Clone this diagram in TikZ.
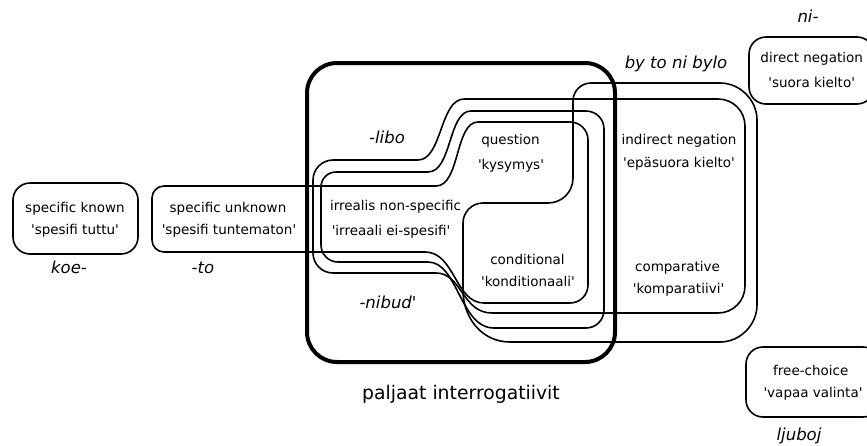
\documentclass[tikz,border=0pt]{standalone}
\usepackage{fontspec}
\setmainfont{DejaVu Sans}[Ligatures=TeXOff]
\begin{document}
\begin{tikzpicture}[x=1pt,y=-1pt,line join=round,
  outline/.style={draw, line width=1.6pt},
  termbox/.style={draw, line width=1.6pt, rounded corners=17pt, inner sep=0pt},
  gloss/.style={anchor=base, inner sep=0pt, font=\fontsize{13.5}{16}\selectfont},
  marker/.style={anchor=base, inner sep=0pt, font=\fontsize{16.5}{20}\selectfont\itshape},
]
\useasboundingbox (0,0) rectangle (867,445);

% bare interrogatives: the thick frame
\node[draw, line width=4pt, rounded corners=30pt, minimum width=308pt,
      minimum height=299pt, inner sep=0pt] (bare) at (461,212.5) {};
\node[anchor=base, inner sep=0pt, font=\fontsize{18.8}{22}\selectfont]
      (barelbl) at (461,399) {paljaat interrogatiivit};

% stand-alone functions
\node[termbox, minimum width=125pt, minimum height=71pt] (knownbox) at (75.5,218.5) {};
\node[termbox, minimum width=125pt, minimum height=67pt] (dirnegbox) at (811.5,70.5) {};
\node[termbox, minimum width=134pt, minimum height=70pt] (freebox) at (813,382) {};

% -to
\draw[outline] (152,220) -- (152,198) .. controls (152,191.4) and (157.4,186) .. (164,186)
  -- (436,186) .. controls (460,186) and (455,122) .. (478,122)
  -- (570,122) .. controls (580,122) and (588,130) .. (588,140)
  -- (588,285) .. controls (588,295) and (580,303) .. (570,303)
  -- (484,303) .. controls (455,303) and (455,252) .. (425,252)
  -- (164,252) .. controls (157.4,252) and (152,246.6) .. (152,240) -- cycle;

% -libo
\draw[outline] (313,220) -- (313,180) .. controls (313,169) and (322,160) .. (333,160)
  -- (418,160) .. controls (442,160) and (440,99) .. (464,99)
  -- (718,99) .. controls (733,99) and (745,111) .. (745,126)
  -- (745,286) .. controls (745,301) and (733,313) .. (718,313)
  -- (492,313) .. controls (462,313) and (462,273) .. (436,273)
  -- (333,273) .. controls (322,273) and (313,264) .. (313,253) -- cycle;

% -nibud'
\draw[outline] (321,220) -- (321,187) .. controls (321,178.7) and (327.7,172) .. (336,172)
  -- (428,172) .. controls (452,172) and (448,111) .. (471,111)
  -- (586,111) .. controls (596,111) and (604,119) .. (604,129)
  -- (604,310) .. controls (604,320) and (596,328) .. (586,328)
  -- (494,328) .. controls (460,328) and (458,262) .. (428,262)
  -- (338,262) .. controls (328.6,262) and (321,254.4) .. (321,245) -- cycle;

% by to ni bylo
\draw[outline] (650,83) -- (720,83) .. controls (740,83) and (757,100) .. (757,120)
  -- (757,305) .. controls (757,325) and (740,342) .. (720,342)
  -- (510,342) .. controls (482,342) and (463,318) .. (463,290)
  -- (463,223) .. controls (463,212) and (472,203) .. (483,203)
  -- (548,203) .. controls (562,203) and (573,192) .. (573,178)
  -- (573,101) .. controls (573,91) and (581,83) .. (591,83) -- cycle;

% function labels
\node[gloss] (skA) at (75,212.8) {specific known};
\node[gloss] (skB) at (75,234.5) {'spesifi tuttu'};
\node[gloss] (suA) at (228,212.8) {specific unknown};
\node[gloss] (suB) at (229,234.5) {'spesifi tuntematon'};
\node[gloss] (irA) at (395.5,210.2) {irrealis non-specific};
\node[gloss] (irB) at (391,235.5) {'irreaali ei-spesifi'};
\node[gloss] (quA) at (510.5,144.5) {question};
\node[gloss] (quB) at (511,169.5) {'kysymys'};
\node[gloss] (coA) at (527.5,264.5) {conditional};
\node[gloss] (coB) at (528,286.2) {'konditionaali'};
\node[gloss] (inA) at (679,144.5) {indirect negation};
\node[gloss] (inB) at (679,167.2) {'epäsuora kielto'};
\node[gloss] (cmA) at (677.5,271.2) {comparative};
\node[gloss] (cmB) at (678.5,293.5) {'komparatiivi'};
\node[gloss] (dnA) at (811.7,62.8) {direct negation};
\node[gloss] (dnB) at (811.7,87.8) {'suora kielto'};
\node[gloss] (fcA) at (810.8,375.2) {free-choice};
\node[gloss] (fcB) at (813,397.5) {'vapaa valinta'};

% series markers
\node[marker] (koe) at (69,273) {koe-};
\node[marker] (to) at (203,273) {-to};
\node[marker] (libo) at (387,143) {-libo};
\node[marker] (nibud) at (388,308) {-nibud\upshape'};
\node[marker] (bytoni) at (676,68) {by to ni bylo};
\node[marker] (ni) at (808,22) {ni-};
\node[marker] (ljuboj) at (799,440) {ljuboj};
\end{tikzpicture}
\end{document}
